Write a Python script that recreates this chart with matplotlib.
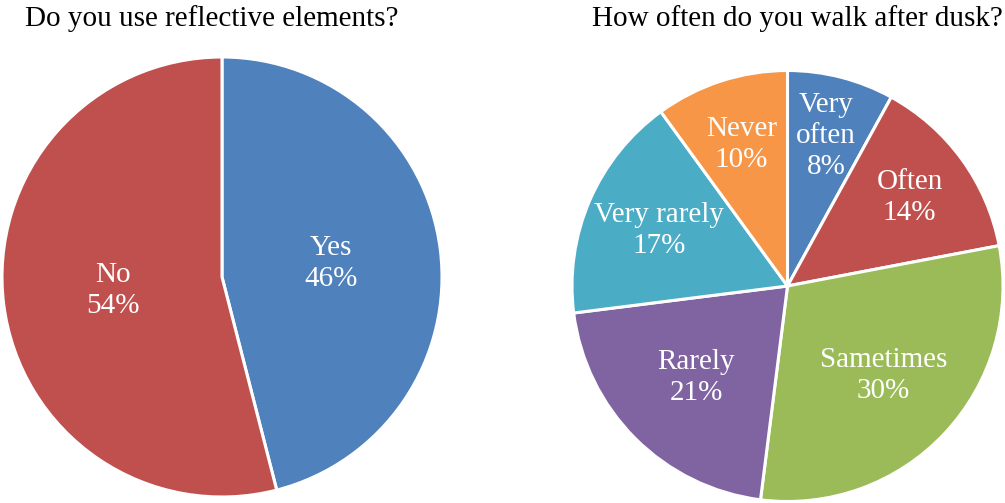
import matplotlib
matplotlib.use('Agg')
import numpy as np
import matplotlib.pyplot as plt

plt.rcParams['font.family'] = ['Liberation Serif', 'DejaVu Serif']

# Reflective elements survey
reflect_labels = ['Yes', 'No']
reflect_values = [46, 54]
reflect_colors = ['#4F81BD', '#C0504D']

# Walking after dusk survey
dusk_labels = ['Very\noften', 'Often', 'Sametimes', 'Rarely', 'Very rarely', 'Never']
dusk_values = [8, 14, 30, 21, 17, 10]
dusk_colors = ['#4F81BD', '#C0504D', '#9BBB59', '#8064A2', '#4BACC6', '#F79646']
dusk_label_r = [0.72, 0.70, 0.61, 0.60, 0.65, 0.69]

W, H = 1005, 503
fig = plt.figure(figsize=(W / 100, H / 100), dpi=100)


def pie_axes(cx, cy, r):
    return fig.add_axes([(cx - r) / W, (H - cy - r) / H, 2 * r / W, 2 * r / H])


def draw_pie(ax, values, labels, colors, radii):
    wedges, _ = ax.pie(values, colors=colors, startangle=90, counterclock=False,
                       wedgeprops=dict(edgecolor='white', linewidth=2.2))
    total = sum(values)
    for w, lab, val, rr in zip(wedges, labels, values, radii):
        ang = np.deg2rad((w.theta1 + w.theta2) / 2)
        ax.text(rr * np.cos(ang), rr * np.sin(ang),
                f'{lab}\n{round(100 * val / total)}%',
                ha='center', va='center', color='white', fontsize=21,
                linespacing=1.25)
    ax.set_xlim(-1, 1)
    ax.set_ylim(-1, 1)
    ax.set_aspect('equal')
    ax.axis('off')


ax1 = pie_axes(222, 277, 220)
draw_pie(ax1, reflect_values, reflect_labels, reflect_colors, [0.5, 0.5])

ax2 = pie_axes(787.5, 286, 215.5)
draw_pie(ax2, dusk_values, dusk_labels, dusk_colors, dusk_label_r)

fig.text(212 / W, 1 - 19 / H, 'Do you use reflective elements?',
         ha='center', va='center', fontsize=21)
fig.text(797 / W, 1 - 19 / H, 'How often do you walk after dusk?',
         ha='center', va='center', fontsize=21)

fig.savefig('out.png', dpi=100)
